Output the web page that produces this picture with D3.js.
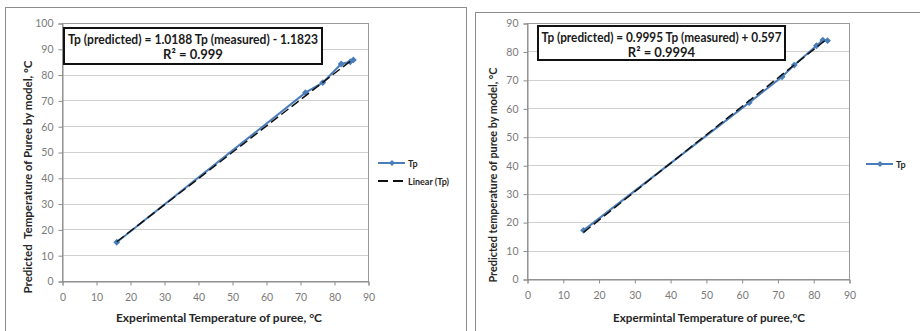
<!DOCTYPE html>
<html>
<head>
<meta charset="utf-8">
<script src="https://cdn.jsdelivr.net/npm/d3@7"></script>
<style>
  body { margin: 0; background: #fff; }
  svg { display: block; font-family: Lato, "Open Sans", sans-serif; }
</style>
</head>
<body>
<svg width="920" height="331"></svg>
<script>
//* Data
const leftMeasured = [16.1, 71.6, 76.7, 82.1, 84.8, 85.7];
const leftPredicted = [15.0, 73.0, 76.9, 84.1, 85.0, 85.7];
const leftFit = { slope: 1.0188, intercept: -1.1823 };
const leftYTicks = [0, 10, 20, 30, 40, 50, 60, 70, 80, 90, 100];

const rightMeasured = [15.8, 62.1, 71.3, 74.7, 80.9, 82.7, 84.0];
const rightPredicted = [17.1, 62.0, 71.1, 75.2, 82.0, 84.0, 83.8];
const rightFit = { slope: 0.9995, intercept: 0.597 };
const rightYTicks = [0, 10, 20, 30, 40, 50, 60, 70, 80, 90];

const xTicks = [0, 10, 20, 30, 40, 50, 60, 70, 80, 90];

const blue = "#4a7ebb";
const svg = d3.select("svg");

// outer chart frames
svg.append("rect").attr("x", 5.5).attr("y", 7.5).attr("width", 461).attr("height", 340)
  .attr("fill", "none").attr("stroke", "#8c8c8c");
svg.append("rect").attr("x", 475.5).attr("y", 12.5).attr("width", 460).attr("height", 340)
  .attr("fill", "none").attr("stroke", "#8c8c8c");

function drawChart(opt) {
  const x = d3.scaleLinear().domain([0, 90]).range([opt.left, opt.right]);
  const y = d3.scaleLinear().domain([0, opt.yMax]).range([opt.bottom, opt.top]);
  const g = svg.append("g");

  // gridlines
  g.selectAll(".grid")
    .data(opt.yTicks.filter(d => d > 0))
    .join("line")
      .attr("x1", opt.left).attr("x2", opt.right)
      .attr("y1", d => Math.round(y(d)) + 0.5).attr("y2", d => Math.round(y(d)) + 0.5)
      .attr("stroke", "#d0d0d0");

  // plot area border
  g.append("rect")
    .attr("x", opt.left + 0.5).attr("y", opt.top + 0.5)
    .attr("width", opt.right - opt.left).attr("height", opt.bottom - opt.top)
    .attr("fill", "none").attr("stroke", "#9a9a9a");

  const xAxis = g.append("g")
    .attr("transform", `translate(0.5, ${opt.bottom + 0.5})`)
    .call(d3.axisBottom(x).tickValues(xTicks).tickSize(4).tickPadding(8));
  const yAxis = g.append("g")
    .attr("transform", `translate(${opt.left + 0.5}, 0.5)`)
    .call(d3.axisLeft(y).tickValues(opt.yTicks).tickSize(4).tickPadding(5));

  [xAxis, yAxis].forEach(a => {
    a.select(".domain").attr("stroke", "#8c8c8c");
    a.selectAll(".tick line").attr("stroke", "#8c8c8c");
    a.selectAll(".tick text")
      .attr("fill", "#7a7a7a")
      .attr("font-size", 10.5)
      .attr("font-family", "Lato, sans-serif");
  });

  // axis titles
  g.append("text")
    .attr("x", opt.xTitleX).attr("y", 322)
    .attr("text-anchor", "middle")
    .attr("font-size", 11).attr("font-weight", "bold").attr("fill", "#262626")
    .attr("textLength", opt.xTitleLen).attr("lengthAdjust", "spacingAndGlyphs")
    .text(opt.xTitle);
  g.append("text")
    .attr("transform", `translate(${opt.yTitleX}, ${opt.yTitleY}) rotate(-90)`)
    .attr("text-anchor", "middle")
    .attr("font-size", 11).attr("font-weight", "bold").attr("fill", "#262626")
    .attr("textLength", opt.yTitleLen).attr("lengthAdjust", "spacingAndGlyphs")
    .style("white-space", "pre")
    .text(opt.yTitle);

  // series line with diamond markers
  const pts = opt.measured.map((m, i) => [m, opt.predicted[i]]);
  g.append("path")
    .datum(pts)
    .attr("fill", "none").attr("stroke", blue).attr("stroke-width", 2)
    .attr("d", d3.line().x(d => x(d[0])).y(d => y(d[1])));
  g.selectAll(".marker")
    .data(pts)
    .join("path")
      .attr("transform", d => `translate(${x(d[0])}, ${y(d[1])})`)
      .attr("d", d3.symbol(d3.symbolDiamond2, 30))
      .attr("fill", blue);

  // linear trend line (dashed), drawn over the series like Excel does
  const x0 = d3.min(opt.measured), x1 = d3.max(opt.measured);
  const fit = v => opt.fit.slope * v + opt.fit.intercept;
  g.append("line")
    .attr("x1", x(x0)).attr("y1", y(fit(x0)))
    .attr("x2", x(x1)).attr("y2", y(fit(x1)))
    .attr("stroke", "#111").attr("stroke-width", 1.5).attr("stroke-dasharray", "9,4");

  // equation box
  const b = opt.eqBox;
  g.append("rect")
    .attr("x", b.x).attr("y", b.y).attr("width", b.w).attr("height", b.h)
    .attr("fill", "#fff").attr("stroke", "#111").attr("stroke-width", 2);
  const eq = g.append("text")
    .attr("text-anchor", "middle")
    .attr("font-size", 13).attr("font-weight", "bold").attr("fill", "#1a1a1a");
  eq.append("tspan")
    .attr("x", b.x + b.w / 2).attr("y", b.y + 16)
    .attr("textLength", b.textLen).attr("lengthAdjust", "spacingAndGlyphs")
    .text(opt.eqText);
  eq.append("tspan")
    .attr("x", b.x + b.w / 2).attr("y", b.y + 31)
    .text(opt.r2Text);

  // legend
  opt.legend.forEach((item, i) => {
    const ly = opt.legendY + i * 18;
    const lg = g.append("g");
    lg.append("line")
      .attr("x1", opt.legendX).attr("x2", opt.legendX + 27)
      .attr("y1", ly).attr("y2", ly)
      .attr("stroke", item.dashed ? "#111" : blue).attr("stroke-width", 2)
      .attr("stroke-dasharray", item.dashed ? "10,5" : null);
    if (!item.dashed) {
      lg.append("path")
        .attr("transform", `translate(${opt.legendX + 14}, ${ly})`)
        .attr("d", d3.symbol(d3.symbolDiamond2, 22))
        .attr("fill", blue);
    }
    lg.append("text")
      .attr("x", opt.legendX + 30).attr("y", ly + 3.5)
      .attr("font-size", 9).attr("font-weight", "bold").attr("fill", "#262626")
      .text(item.name);
  });
}

drawChart({
  left: 62, right: 368, top: 23, bottom: 281, yMax: 100,
  yTicks: leftYTicks,
  measured: leftMeasured, predicted: leftPredicted, fit: leftFit,
  xTitle: "Experimental Temperature of puree, °C", xTitleX: 219, xTitleLen: 206,
  yTitle: "Predicted  Temperature of Puree by model, °C", yTitleX: 32, yTitleY: 177, yTitleLen: 233,
  eqBox: { x: 64, y: 28, w: 258, h: 36, textLen: 250 },
  eqText: "Tp (predicted) = 1.0188 Tp (measured) - 1.1823",
  r2Text: "R² = 0.999",
  legendX: 378, legendY: 163,
  legend: [{ name: "Tp" }, { name: "Linear (Tp)", dashed: true }]
});

drawChart({
  left: 527, right: 849, top: 23, bottom: 279, yMax: 90,
  yTicks: rightYTicks,
  measured: rightMeasured, predicted: rightPredicted, fit: rightFit,
  xTitle: "Expermintal Temperature of puree,°C", xTitleX: 709, xTitleLen: 192,
  yTitle: "Predicted temperature of puree by model, °C", yTitleX: 497, yTitleY: 175, yTitleLen: 215,
  eqBox: { x: 538, y: 26, w: 247, h: 34, textLen: 240 },
  eqText: "Tp (predicted) = 0.9995 Tp (measured) + 0.597",
  r2Text: "R² = 0.9994",
  legendX: 866, legendY: 164,
  legend: [{ name: "Tp" }]
});
</script>
</body>
</html>
